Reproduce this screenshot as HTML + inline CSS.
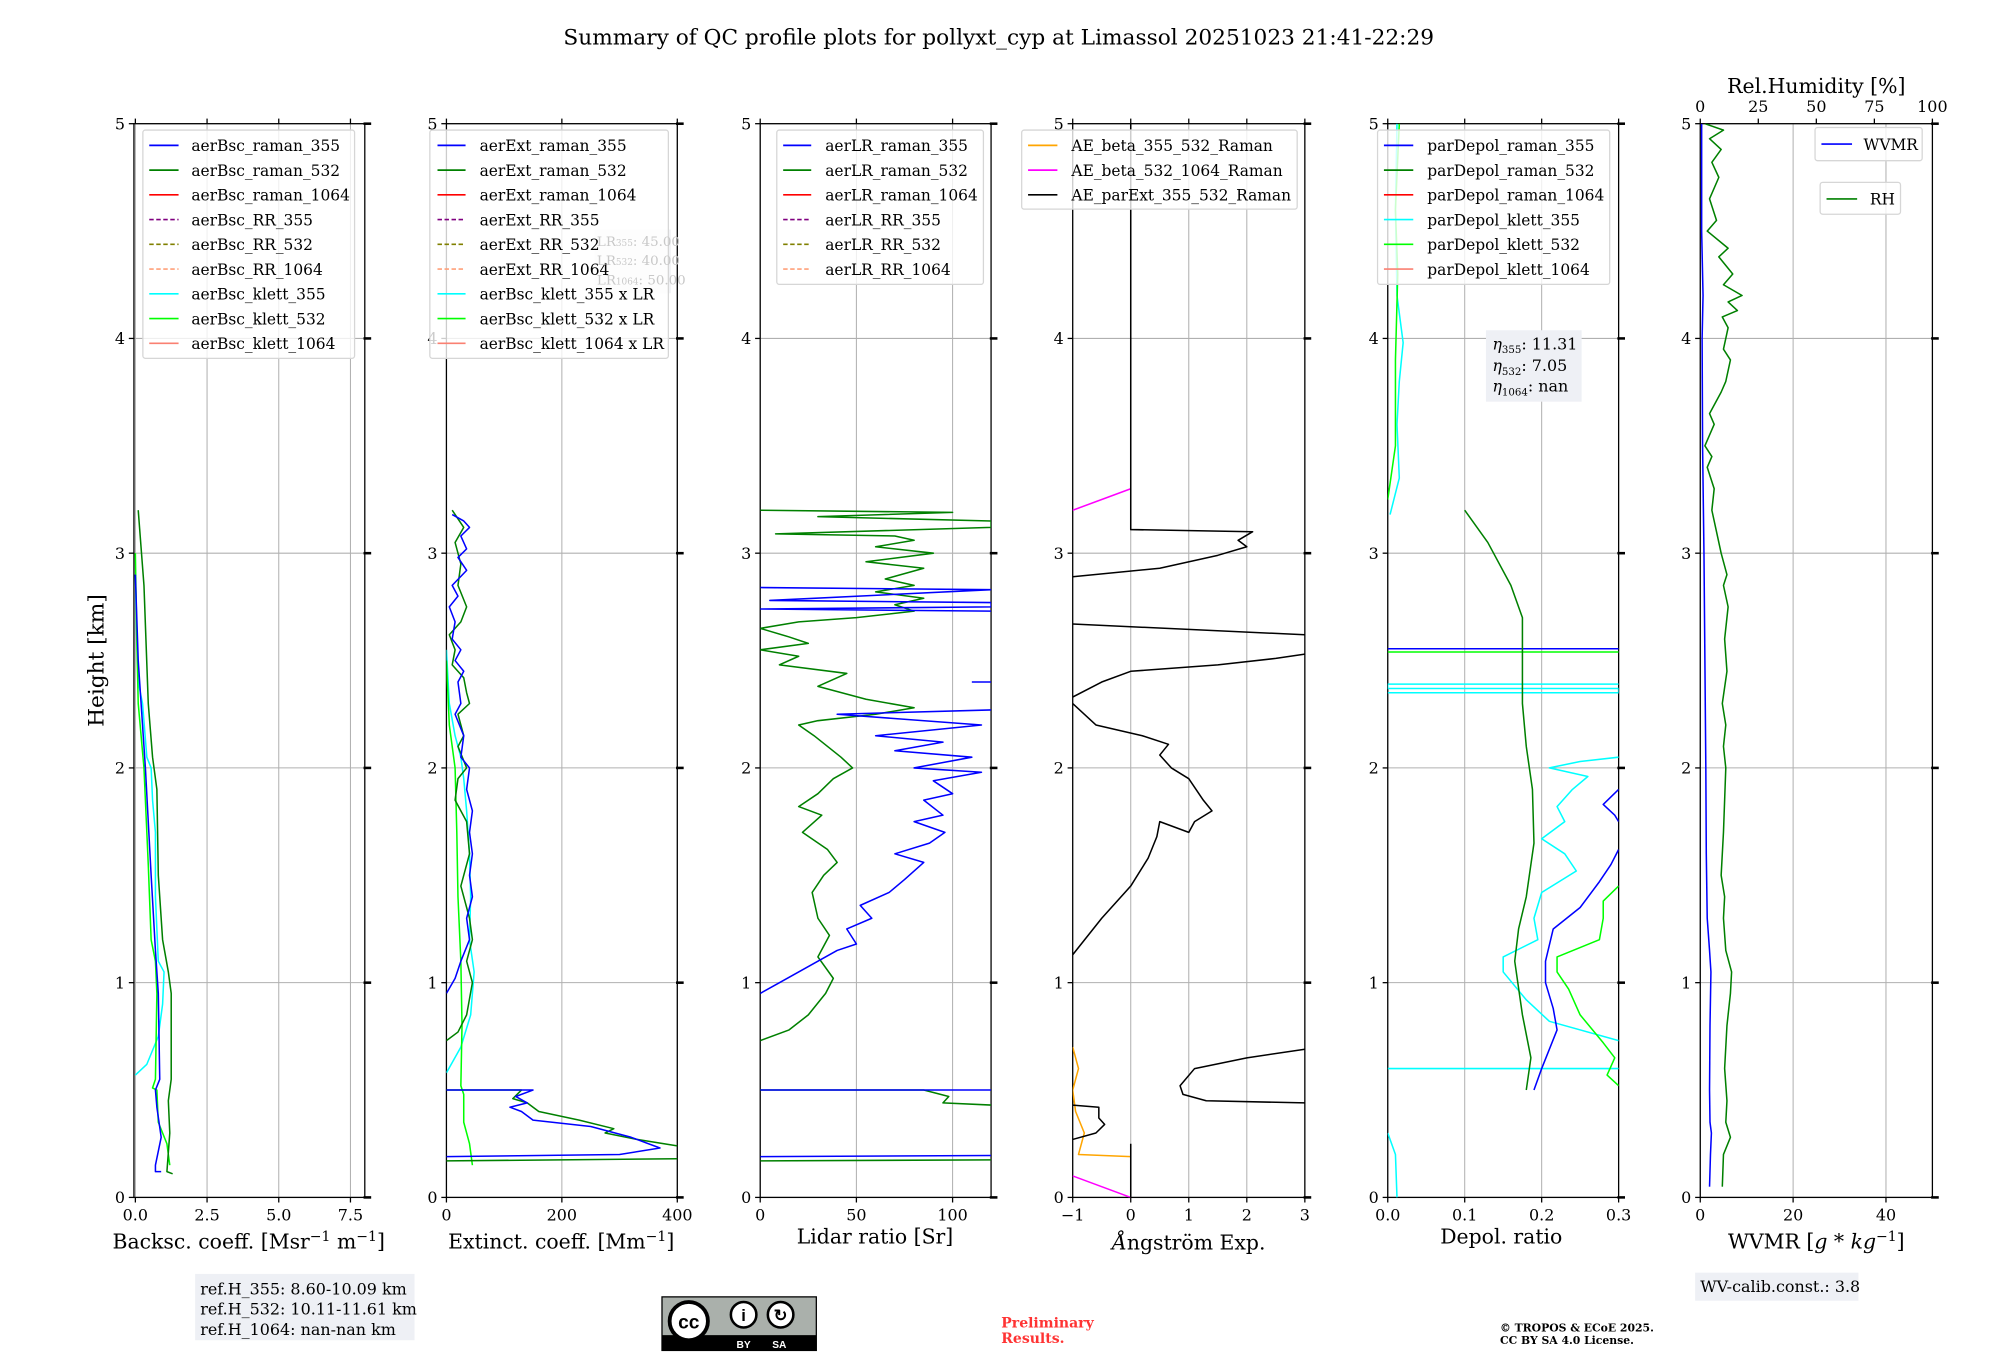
<!DOCTYPE html>
<html><head><meta charset="utf-8"><style>
html,body{margin:0;padding:0;background:#fff;}
svg{display:block;font-family:"DejaVu Serif","Liberation Serif",serif;}
</style></head><body>
<svg id="fig" width="2000" height="1360" viewBox="0 0 1568 1066.5" preserveAspectRatio="none" xmlns="http://www.w3.org/2000/svg">
<rect width="1568" height="1067" fill="#fff"/>
<text x="783" y="35" font-size="17" text-anchor="middle">Summary of QC profile plots for pollyxt_cyp at Limassol 20251023 21:41-22:29</text>
<text transform="translate(81,518) rotate(-90)" font-size="17" text-anchor="middle">Height [km]</text>
<text x="195" y="979" font-size="16" text-anchor="middle">Backsc. coeff. [Msr<tspan dy="-6" font-size="11">−1</tspan><tspan dy="6"> m</tspan><tspan dy="-6" font-size="11">−1</tspan><tspan dy="6">]</tspan></text>
<text x="440" y="979" font-size="16" text-anchor="middle">Extinct. coeff. [Mm<tspan dy="-6" font-size="11">−1</tspan><tspan dy="6">]</tspan></text>
<text x="686" y="975" font-size="16" text-anchor="middle">Lidar ratio [Sr]</text>
<text x="932" y="980" font-size="16" text-anchor="middle"><tspan font-style="italic">Å</tspan>ngström Exp.</text>
<text x="1177" y="975" font-size="16" text-anchor="middle">Depol. ratio</text>
<text x="1424" y="979" font-size="16" text-anchor="middle">WVMR [<tspan font-style="italic">g</tspan> * <tspan font-style="italic">kg</tspan><tspan dy="-6" font-size="11">−1</tspan><tspan dy="6">]</tspan></text>
<text x="1424" y="73" font-size="16" text-anchor="middle">Rel.Humidity [%]</text>

<rect x="153" y="999" width="172" height="52" fill="#eef0f5"/>
<text font-size="12.5" x="157"><tspan x="157" y="1015">ref.H_355: 8.60-10.09 km</tspan><tspan x="157" y="1031">ref.H_532: 10.11-11.61 km</tspan><tspan x="157" y="1047">ref.H_1064: nan-nan km</tspan></text>

<g>
<rect x="519" y="1017" width="121" height="42" fill="#aab0ab" stroke="#000" stroke-width="1"/>
<rect x="519" y="1047" width="121" height="12" fill="#000"/>
<circle cx="540" cy="1036" r="15" fill="#fff" stroke="#000" stroke-width="3"/>
<text x="540" y="1042" font-size="15" font-weight="bold" text-anchor="middle" font-family="Liberation Sans,sans-serif">cc</text>
<circle cx="583" cy="1031" r="10" fill="#fff" stroke="#000" stroke-width="2"/>
<circle cx="612" cy="1031" r="10" fill="#fff" stroke="#000" stroke-width="2"/>
<text x="583" y="1036" font-size="13" font-weight="bold" text-anchor="middle" font-family="Liberation Sans,sans-serif">i</text>
<text x="612" y="1036" font-size="13" font-weight="bold" text-anchor="middle" font-family="Liberation Sans,sans-serif">↻</text>
<text x="583" y="1057" font-size="8" fill="#fff" font-weight="bold" text-anchor="middle" font-family="Liberation Sans,sans-serif">BY</text>
<text x="611" y="1057" font-size="8" fill="#fff" font-weight="bold" text-anchor="middle" font-family="Liberation Sans,sans-serif">SA</text>
</g>
<text font-size="11" font-weight="bold" fill="#ff3333"><tspan x="785" y="1041">Preliminary</tspan><tspan x="785" y="1053">Results.</tspan></text>
<text font-size="8.5" font-weight="bold"><tspan x="1176" y="1044">© TROPOS &amp; ECoE 2025.</tspan><tspan x="1176" y="1054">CC BY SA 4.0 License.</tspan></text>
<rect x="1329" y="998" width="128" height="22" fill="#eef0f5"/>
<text x="1333" y="1013" font-size="12.5">WV-calib.const.: 3.8</text>
</svg>
<script>
// ---------- data (value, height km) ----------
const bscTicks = [0, 2.5, 5, 7.5];
const bscTickLabels = ['0.0', '2.5', '5.0', '7.5'];
const extTicks = [0, 200, 400];
const extTickLabels = ['0', '200', '400'];
const lrTicks = [0, 50, 100];
const lrTickLabels = ['0', '50', '100'];
const aeTicks = [-1, 0, 1, 2, 3];
const aeTickLabels = ['−1', '0', '1', '2', '3'];
const dpTicks = [0, 0.1, 0.2, 0.3];
const dpTickLabels = ['0.0', '0.1', '0.2', '0.3'];
const wvTicks = [0, 20, 40];
const wvTickLabels = ['0', '20', '40'];
const rhTicks = [0, 25, 50, 75, 100];
const rhTickLabels = ['0', '25', '50', '75', '100'];
const heightTicks = [0, 1, 2, 3, 4, 5];

const bscRaman532 = [[0.1,3.2],[0.3,2.85],[0.45,2.3],[0.6,2.05],[0.75,1.9],[0.8,1.5],[0.95,1.2],[1.15,1.05],[1.25,0.95],[1.25,0.55],[1.15,0.45],[1.2,0.3],[1.1,0.12],[1.3,0.11]];
const bscRaman355 = [[0,2.9],[0.1,2.5],[0.2,2.3],[0.35,2.0],[0.45,1.75],[0.55,1.5],[0.7,1.15],[0.8,0.95],[0.85,0.55],[0.7,0.5],[0.75,0.42],[0.9,0.28],[0.7,0.15],[0.7,0.12],[0.9,0.12]];
const bscKlett355 = [[0,2.9],[0.05,2.6],[0.1,2.4],[0.25,2.3],[0.4,2.05],[0.55,2.0],[0.6,1.85],[0.7,1.7],[0.7,1.4],[0.8,1.1],[1.0,1.05],[0.95,0.9],[0.8,0.75],[0.4,0.62],[0,0.57]];
const bscKlett532 = [[0,3.0],[0.05,2.6],[0.1,2.3],[0.3,2.0],[0.35,1.85],[0.45,1.55],[0.55,1.2],[0.7,1.1],[0.75,0.95],[0.7,0.55],[0.6,0.51],[0.75,0.5],[0.8,0.35],[1.1,0.25],[1.2,0.15]];

const extRaman355Top = [[10,3.18],[30,3.15],[40,3.12],[25,3.08],[35,3.02],[20,2.98],[35,2.92],[10,2.85],[20,2.8],[5,2.75],[15,2.68],[10,2.6],[25,2.55],[15,2.5],[30,2.45],[20,2.4],[25,2.3],[15,2.25],[30,2.15],[25,2.05],[40,2.0],[35,1.9],[45,1.8],[40,1.7],[45,1.6],[40,1.5],[45,1.4],[35,1.3],[40,1.2],[25,1.1],[15,1.02],[0,0.95]];
const extRaman355Low = [[0,0.5],[150,0.5],[120,0.47],[140,0.44],[110,0.42],[130,0.4],[150,0.36],[250,0.33],[320,0.28],[370,0.23],[300,0.2],[0,0.19]];
const extRaman532Top = [[10,3.2],[30,3.12],[15,3.05],[25,2.95],[20,2.85],[35,2.75],[25,2.68],[5,2.62],[15,2.55],[10,2.48],[30,2.42],[35,2.35],[40,2.3],[20,2.25],[30,2.15],[20,2.1],[35,2.0],[20,1.95],[15,1.85],[35,1.75],[40,1.6],[25,1.45],[40,1.3],[45,1.2],[35,1.1],[45,1.0],[35,0.85],[20,0.77],[0,0.73]];
const extRaman532Low = [[0,0.5],[130,0.5],[115,0.46],[140,0.44],[160,0.4],[230,0.36],[290,0.32],[275,0.3],[330,0.27],[400,0.24]];
const extRaman532Base = [[0,0.17],[400,0.18]];
const extKlett355 = [[0,2.55],[5,2.3],[15,2.15],[25,2.05],[30,1.95],[35,1.8],[40,1.6],[42,1.4],[40,1.2],[48,1.05],[42,0.85],[25,0.7],[0,0.58]];
const extKlett532 = [[0,2.5],[5,2.2],[15,2.0],[18,1.7],[20,1.4],[25,1.1],[27,0.8],[25,0.52],[30,0.48],[30,0.35],[40,0.25],[45,0.15]];

const lrRaman532 = [[0,3.2],[100,3.19],[30,3.17],[120,3.15],[120,3.12],[8,3.09],[70,3.08],[80,3.06],[60,3.03],[90,3.0],[55,2.96],[85,2.93],[65,2.88],[80,2.85],[60,2.82],[85,2.79],[70,2.76],[80,2.73],[50,2.7],[20,2.68],[0,2.65],[15,2.61],[25,2.58],[0,2.55],[20,2.52],[10,2.48],[45,2.44],[30,2.38],[55,2.32],[80,2.28],[60,2.25],[30,2.22],[20,2.2],[28,2.15],[35,2.1],[42,2.05],[48,2.0],[38,1.95],[30,1.88],[20,1.82],[32,1.78],[22,1.7],[35,1.62],[40,1.56],[33,1.5],[27,1.42],[30,1.3],[36,1.22],[30,1.12],[38,1.02],[34,0.95],[25,0.85],[15,0.78],[0,0.73]];
const lrRaman532Low = [[0,0.5],[85,0.5],[98,0.47],[95,0.44],[120,0.43]];
const lrRaman532Base = [[0,0.17],[120,0.175]];
const lrRaman355 = [[120,2.27],[40,2.25],[115,2.2],[60,2.15],[95,2.12],[70,2.08],[110,2.05],[80,2.0],[115,1.98],[90,1.94],[100,1.88],[85,1.85],[95,1.78],[80,1.75],[96,1.7],[88,1.65],[70,1.6],[85,1.56],[75,1.48],[67,1.42],[52,1.36],[58,1.3],[45,1.25],[50,1.18],[40,1.15],[30,1.1],[20,1.05],[10,1.0],[0,0.95]];
const lrRaman355Spikes = [[0,2.84],[120,2.83],[5,2.78],[120,2.77],[120,2.75],[0,2.74],[120,2.73]];
const lrRaman355Short = [[110,2.4],[120,2.4]];
const lrRaman355Low = [[0,0.5],[120,0.5]];
const lrRaman355Base = [[0,0.19],[120,0.195]];

const aeBetaOrange = [[-1,0.7],[-0.9,0.6],[-1,0.5],[-0.95,0.4],[-0.8,0.3],[-0.9,0.2],[0,0.19]];
const aeMagentaLow = [[-1,0.1],[-0.5,0.05],[0,0]];
const aeMagentaHigh = [[-1,3.2],[-0.5,3.25],[0,3.3]];
const aeExtSeg1 = [[0,0],[0,0.25]];
const aeExtSeg2 = [[-1,0.27],[-0.6,0.3],[-0.45,0.34],[-0.55,0.37],[-0.55,0.42],[-1,0.43]];
const aeExtSeg3 = [[3,0.44],[1.3,0.45],[0.9,0.48],[0.85,0.52],[1.1,0.6],[2,0.65],[3,0.69]];
const aeExtSeg4 = [[-1,1.13],[-0.5,1.3],[0,1.45],[0.3,1.58],[0.45,1.68],[0.5,1.75],[1.0,1.7],[1.1,1.75],[1.4,1.8],[1.25,1.85],[1.0,1.95],[0.7,2.0],[0.5,2.06],[0.65,2.11],[0.2,2.15],[-0.6,2.2],[-1,2.3]];
const aeExtSeg5 = [[-1,2.33],[-0.5,2.4],[0,2.45],[1.5,2.48],[2.5,2.51],[3,2.53]];
const aeExtSeg6 = [[-1,2.67],[3,2.62]];
const aeExtSeg7 = [[-1,2.89],[0.5,2.93],[1.5,2.99],[2,3.03],[1.85,3.06],[2.1,3.1],[0,3.11],[0,5]];

const dpRaman532 = [[0.1,3.2],[0.13,3.05],[0.16,2.85],[0.175,2.7],[0.175,2.3],[0.18,2.1],[0.188,1.9],[0.19,1.65],[0.18,1.4],[0.17,1.25],[0.165,1.1],[0.175,0.85],[0.186,0.65],[0.18,0.5]];
const dpRaman355Top = [[0.3,1.9],[0.28,1.83],[0.295,1.78],[0.3,1.75]];
const dpRaman355 = [[0.3,1.62],[0.29,1.55],[0.275,1.47],[0.25,1.35],[0.215,1.25],[0.205,1.1],[0.205,1.0],[0.215,0.88],[0.22,0.78],[0.2,0.6],[0.19,0.5]];
const dpRaman355Line = [[0,2.555],[0.3,2.555]];
const dpKlett355 = [[0.3,2.05],[0.25,2.03],[0.21,2.0],[0.26,1.96],[0.24,1.9],[0.22,1.82],[0.23,1.75],[0.2,1.67],[0.23,1.6],[0.245,1.52],[0.2,1.42],[0.19,1.3],[0.195,1.2],[0.15,1.12],[0.15,1.05],[0.18,0.92],[0.21,0.82],[0.3,0.73]];
const dpKlett355Lines = [[0,0.6],[0.3,0.6]];
const dpKlett355Band = [[0,2.35],[0.3,2.35],[0.3,2.37],[0,2.37],[0,2.39],[0.3,2.39]];
const dpKlett355Top = [[0.003,3.18],[0.015,3.35],[0.012,3.6],[0.015,3.8],[0.02,3.98],[0.012,4.2],[0.01,4.6],[0.012,5]];
const dpKlett355Bottom = [[0,0.3],[0.01,0.2],[0.012,0]];
const dpKlett532 = [[0.3,1.45],[0.28,1.38],[0.28,1.3],[0.275,1.2],[0.22,1.12],[0.22,1.05],[0.235,0.97],[0.25,0.85],[0.28,0.72],[0.295,0.65],[0.285,0.57],[0.3,0.52]];
const dpKlett532Top = [[0,3.25],[0.01,3.5],[0.01,3.9],[0.013,4.3],[0.01,4.6],[0.015,5]];
const dpKlett532Line = [[0,2.54],[0.3,2.54]];

const wvmr = [[2,0.05],[2.2,0.2],[2.4,0.3],[2.1,0.35],[2,0.5],[2.1,0.8],[2.3,1.05],[2.0,1.15],[1.5,1.3],[1.3,1.6],[1.2,2.0],[1.0,2.5],[0.8,3.0],[0.5,3.5],[0.4,4.0],[0.6,4.2],[0.3,4.5],[0.3,5]];
const rh = [[9.5,0.05],[10,0.2],[13,0.28],[11,0.35],[11.5,0.45],[10.5,0.6],[11.5,0.8],[13,0.95],[13.5,1.05],[11,1.15],[10,1.3],[10.5,1.4],[9,1.5],[10,1.7],[10.5,1.85],[11,2.0],[10,2.1],[11,2.2],[9.5,2.3],[11.5,2.45],[10.5,2.6],[12,2.75],[10,2.85],[11.5,2.9],[9,3.0],[7,3.1],[5,3.2],[6,3.3],[3,3.4],[5,3.45],[2,3.5],[6,3.6],[4,3.65],[9,3.75],[11,3.8],[13,3.9],[10,3.95],[12,4.05],[9.5,4.1],[16,4.13],[12,4.17],[18,4.2],[10,4.25],[14,4.3],[8,4.38],[12,4.42],[3,4.5],[7,4.55],[4,4.65],[8,4.75],[5,4.82],[9,4.88],[4,4.93],[10,4.97],[2,5]];

// ---------- layout ----------
const NS = 'http://www.w3.org/2000/svg';
const svg = document.getElementById('fig');
const Y0 = 939, Y5 = 97;
function yPix(h){ return Y0 - (h/5)*(Y0 - Y5); }
function mk(tag, parent){ const e = document.createElementNS(NS, tag); parent.appendChild(e); return e; }

const panels = [
  {key:'backscatter', x0:105, x1:286, min:-0.05, max:8, ticks:bscTicks, labels:bscTickLabels},
  {key:'extinction', x0:350, x1:531, min:0, max:400, ticks:extTicks, labels:extTickLabels},
  {key:'lidar-ratio', x0:596, x1:777, min:0, max:120, ticks:lrTicks, labels:lrTickLabels},
  {key:'angstrom', x0:841, x1:1023, min:-1, max:3, ticks:aeTicks, labels:aeTickLabels},
  {key:'depol', x0:1088, x1:1269, min:0, max:0.3, ticks:dpTicks, labels:dpTickLabels},
  {key:'wvmr', x0:1333, x1:1515, min:0, max:50, ticks:wvTicks, labels:wvTickLabels}
];
function xFn(p){ return v => p.x0 + (v - p.min)/(p.max - p.min)*(p.x1 - p.x0); }

const defs = mk('defs', svg);
panels.forEach((p, i) => {
  const cp = mk('clipPath', defs);
  cp.setAttribute('id', 'clip' + i);
  const r = mk('rect', cp);
  r.setAttribute('x', p.x0); r.setAttribute('y', Y5);
  r.setAttribute('width', p.x1 - p.x0); r.setAttribute('height', Y0 - Y5);
});

function drawAxes(p, i){
  const g = mk('g', svg);
  
  
  const x = xFn(p);
  p.ticks.forEach(t => {
    const l = mk('line', g);
    
    
    l.setAttribute('x1', x(t)); l.setAttribute('x2', x(t));
    l.setAttribute('y1', Y5); l.setAttribute('y2', Y0);
    l.setAttribute('stroke', '#b0b0b0'); l.setAttribute('stroke-width', '0.8');
  });
  heightTicks.forEach(h => {
    const l = mk('line', g);
    
    
    l.setAttribute('x1', p.x0); l.setAttribute('x2', p.x1);
    l.setAttribute('y1', yPix(h)); l.setAttribute('y2', yPix(h));
    l.setAttribute('stroke', '#b0b0b0'); l.setAttribute('stroke-width', '0.8');
  });
  const sp = mk('rect', g);
  
  
  sp.setAttribute('x', p.x0); sp.setAttribute('y', Y5);
  sp.setAttribute('width', p.x1 - p.x0); sp.setAttribute('height', Y0 - Y5);
  sp.setAttribute('fill', 'none'); sp.setAttribute('stroke', '#000'); sp.setAttribute('stroke-width', '1');
  p.ticks.forEach((t, k) => {
    const tb = mk('line', g);
    
    
    tb.setAttribute('x1', x(t)); tb.setAttribute('x2', x(t));
    tb.setAttribute('y1', Y0); tb.setAttribute('y2', Y0 + 4);
    tb.setAttribute('stroke', '#000');
    if (i !== 5) {
      const tt = mk('line', g);
      
      
      tt.setAttribute('x1', x(t)); tt.setAttribute('x2', x(t));
      tt.setAttribute('y1', Y5); tt.setAttribute('y2', Y5 - 4);
      tt.setAttribute('stroke', '#000');
    }
    const tx = mk('text', g);
    
    
    tx.setAttribute('x', x(t)); tx.setAttribute('y', Y0 + 18);
    tx.setAttribute('font-size', '12.5'); tx.setAttribute('text-anchor', 'middle');
    tx.textContent = p.labels[k];
  });
  heightTicks.forEach(h => {
    const tl = mk('line', g);
    
    
    tl.setAttribute('x1', p.x0 - 4); tl.setAttribute('x2', p.x0);
    tl.setAttribute('y1', yPix(h)); tl.setAttribute('y2', yPix(h));
    tl.setAttribute('stroke', '#000');
    const tr = mk('line', g);
    
    
    tr.setAttribute('x1', p.x1 - 1); tr.setAttribute('x2', p.x1 + 5);
    tr.setAttribute('y1', yPix(h)); tr.setAttribute('y2', yPix(h));
    tr.setAttribute('stroke', '#000'); tr.setAttribute('stroke-width', '2');
    const ty = mk('text', g);
    
    
    ty.setAttribute('x', p.x0 - 7); ty.setAttribute('y', yPix(h) + 4.5);
    ty.setAttribute('font-size', '12.5'); ty.setAttribute('text-anchor', 'end');
    ty.textContent = String(h);
  });
}
panels.forEach(drawAxes);

(function(){
  const p = panels[5];
  const rx = v => p.x0 + v/100*(p.x1 - p.x0);
  rhTicks.forEach((t, k) => {
    const l = mk('line', svg);
    
    
    l.setAttribute('x1', rx(t)); l.setAttribute('x2', rx(t));
    l.setAttribute('y1', Y5); l.setAttribute('y2', Y5 - 4);
    l.setAttribute('stroke', '#000');
    const tx = mk('text', svg);
    
    
    tx.setAttribute('x', rx(t)); tx.setAttribute('y', Y5 - 9);
    tx.setAttribute('font-size', '12.5'); tx.setAttribute('text-anchor', 'middle');
    tx.textContent = rhTickLabels[k];
  });
})();

function drawSeries(pi, data, color, name, xf){
  const p = panels[pi];
  const x = xf || xFn(p);
  const pl = mk('polyline', svg);
  
  
  pl.setAttribute('points', data.map(d => x(d[0]).toFixed(2) + ',' + yPix(d[1]).toFixed(2)).join(' '));
  pl.setAttribute('fill', 'none');
  pl.setAttribute('stroke', color);
  pl.setAttribute('stroke-width', '1.2');
  pl.setAttribute('stroke-linejoin', 'round');
  pl.setAttribute('clip-path', 'url(#clip' + pi + ')');
}
const B='#0000ff', G='#008000', C='#00ffff', L='#00ff00', K='#000000';
drawSeries(0, bscKlett355, C, 'bsc-klett-355-line');
drawSeries(0, bscKlett532, L, 'bsc-klett-532-line');
drawSeries(0, bscRaman532, G, 'bsc-raman-532-line');
drawSeries(0, bscRaman355, B, 'bsc-raman-355-line');

drawSeries(1, extKlett355, C, 'ext-klett-355-line');
drawSeries(1, extKlett532, L, 'ext-klett-532-line');
drawSeries(1, extRaman532Top, G, 'ext-raman-532-line');
drawSeries(1, extRaman532Low, G, 'ext-raman-532-low-line');
drawSeries(1, extRaman532Base, G, 'ext-raman-532-base-line');
drawSeries(1, extRaman355Top, B, 'ext-raman-355-line');
drawSeries(1, extRaman355Low, B, 'ext-raman-355-low-line');

drawSeries(2, lrRaman532, G, 'lr-raman-532-line');
drawSeries(2, lrRaman532Low, G, 'lr-raman-532-low-line');
drawSeries(2, lrRaman532Base, G, 'lr-raman-532-base-line');
drawSeries(2, lrRaman355, B, 'lr-raman-355-line');
drawSeries(2, lrRaman355Spikes, B, 'lr-raman-355-spikes');
drawSeries(2, lrRaman355Short, B, 'lr-raman-355-short-line');
drawSeries(2, lrRaman355Low, B, 'lr-raman-355-low-line');
drawSeries(2, lrRaman355Base, B, 'lr-raman-355-base-line');

drawSeries(3, aeBetaOrange, '#ffa500', 'ae-beta-355-532-line');
drawSeries(3, aeMagentaLow, '#ff00ff', 'ae-beta-532-1064-low-line');
drawSeries(3, aeMagentaHigh, '#ff00ff', 'ae-beta-532-1064-high-line');
[aeExtSeg1, aeExtSeg2, aeExtSeg3, aeExtSeg4, aeExtSeg5, aeExtSeg6, aeExtSeg7].forEach((s, k) => {
  drawSeries(3, s, K, 'ae-parext-355-532-segment-' + k);
});

drawSeries(4, dpKlett355Top, C, 'depol-klett-355-top-line');
drawSeries(4, dpKlett355Bottom, C, 'depol-klett-355-bottom-line');
drawSeries(4, dpKlett355Band, C, 'depol-klett-355-band');
drawSeries(4, dpKlett355Lines, C, 'depol-klett-355-low-line');
drawSeries(4, dpKlett355, C, 'depol-klett-355-line');
drawSeries(4, dpKlett532Top, L, 'depol-klett-532-top-line');
drawSeries(4, dpKlett532Line, L, 'depol-klett-532-horizontal');
drawSeries(4, dpKlett532, L, 'depol-klett-532-line');
drawSeries(4, dpRaman355Line, B, 'depol-raman-355-horizontal');
drawSeries(4, dpRaman355Top, B, 'depol-raman-355-top-line');
drawSeries(4, dpRaman355, B, 'depol-raman-355-line');
drawSeries(4, dpRaman532, G, 'depol-raman-532-line');

drawSeries(5, wvmr, B, 'wvmr-line');
const rhX = v => panels[5].x0 + v/100*(panels[5].x1 - panels[5].x0);
drawSeries(5, rh, G, 'rh-line', rhX);

function legend(x, y, w, h, entries, name, tx, lineX0, lineX1, step, y0){
  const g = mk('g', svg);
  
  
  const r = mk('rect', g);
  r.setAttribute('x', x); r.setAttribute('y', y); r.setAttribute('width', w); r.setAttribute('height', h);
  r.setAttribute('rx', '2'); r.setAttribute('fill', 'rgba(255,255,255,0.8)'); r.setAttribute('stroke', '#d6d6d6');
  entries.forEach((e, k) => {
    const yy = y0 + k*step;
    const l = mk('line', g);
    
    
    l.setAttribute('x1', lineX0); l.setAttribute('x2', lineX1);
    l.setAttribute('y1', yy); l.setAttribute('y2', yy);
    l.setAttribute('stroke', e[1]); l.setAttribute('stroke-width', '1.3');
    if (e[2]) l.setAttribute('stroke-dasharray', '3.5,2');
    const t = mk('text', g);
    
    
    t.setAttribute('x', tx); t.setAttribute('y', yy + 4.5);
    t.setAttribute('font-size', '12.1');
    t.textContent = e[0];
  });
}
const P='#800080', O='#808000', S='#ffa07a', R='#ff0000', F='#fa8072';
legend(112, 102, 166, 179, [['aerBsc_raman_355',B],['aerBsc_raman_532',G],['aerBsc_raman_1064',R],['aerBsc_RR_355',P,1],['aerBsc_RR_532',O,1],['aerBsc_RR_1064',S,1],['aerBsc_klett_355',C],['aerBsc_klett_532',L],['aerBsc_klett_1064',F]], 'backscatter-legend', 150, 117, 140, 19.4, 114);

(function(){
  const r = mk('rect', svg);
  
  
  r.setAttribute('x', 466); r.setAttribute('y', 180); r.setAttribute('width', 60); r.setAttribute('height', 50);
  r.setAttribute('fill', '#f2f3f6');
})();
legend(337, 102, 187, 179, [['aerExt_raman_355',B],['aerExt_raman_532',G],['aerExt_raman_1064',R],['aerExt_RR_355',P,1],['aerExt_RR_532',O,1],['aerExt_RR_1064',S,1],['aerBsc_klett_355 x LR',C],['aerBsc_klett_532 x LR',L],['aerBsc_klett_1064 x LR',F]], 'extinction-legend', 376, 343, 365, 19.4, 114);
(function(){
  const t = mk('text', svg);
  
  
  t.setAttribute('font-size', '10.5'); t.setAttribute('fill', '#c8c8c8');
  t.innerHTML = '<tspan x="468" y="193">LR<tspan font-size="7">355</tspan>: 45.00</tspan><tspan x="468" y="208">LR<tspan font-size="7">532</tspan>: 40.00</tspan><tspan x="468" y="223">LR<tspan font-size="7">1064</tspan>: 50.00</tspan>';
})();
legend(609, 102, 162, 121, [['aerLR_raman_355',B],['aerLR_raman_532',G],['aerLR_raman_1064',R],['aerLR_RR_355',P,1],['aerLR_RR_532',O,1],['aerLR_RR_1064',S,1]], 'lidar-ratio-legend', 647, 614, 636, 19.4, 114);
legend(801, 102, 216, 62, [['AE_beta_355_532_Raman','#ffa500'],['AE_beta_532_1064_Raman','#ff00ff'],['AE_parExt_355_532_Raman',K]], 'angstrom-legend', 840, 806, 829, 19.4, 114);
legend(1080, 102, 182, 121, [['parDepol_raman_355',B],['parDepol_raman_532',G],['parDepol_raman_1064',R],['parDepol_klett_355',C],['parDepol_klett_532',L],['parDepol_klett_1064',F]], 'depol-legend', 1119, 1085, 1108, 19.4, 114);
legend(1423, 100, 84, 26, [['WVMR',B]], 'wvmr-legend', 1461, 1428, 1452, 19.4, 113);
legend(1427, 143, 63, 25, [['RH',G]], 'rh-legend', 1466, 1432, 1456, 19.4, 156);

(function(){
  const r = mk('rect', svg);
  
  
  r.setAttribute('x', 1165); r.setAttribute('y', 259); r.setAttribute('width', 75); r.setAttribute('height', 56);
  r.setAttribute('fill', '#eef0f5');
  const t = mk('text', svg);
  
  
  t.setAttribute('font-size', '12.5');
  t.innerHTML = '<tspan x="1170" y="274"><tspan font-style="italic">η</tspan><tspan font-size="8" dy="3">355</tspan><tspan dy="-3">: 11.31</tspan></tspan><tspan x="1170" y="291"><tspan font-style="italic">η</tspan><tspan font-size="8" dy="3">532</tspan><tspan dy="-3">: 7.05</tspan></tspan><tspan x="1170" y="307"><tspan font-style="italic">η</tspan><tspan font-size="8" dy="3">1064</tspan><tspan dy="-3">: nan</tspan></tspan>';
})();
</script>
</body></html>
